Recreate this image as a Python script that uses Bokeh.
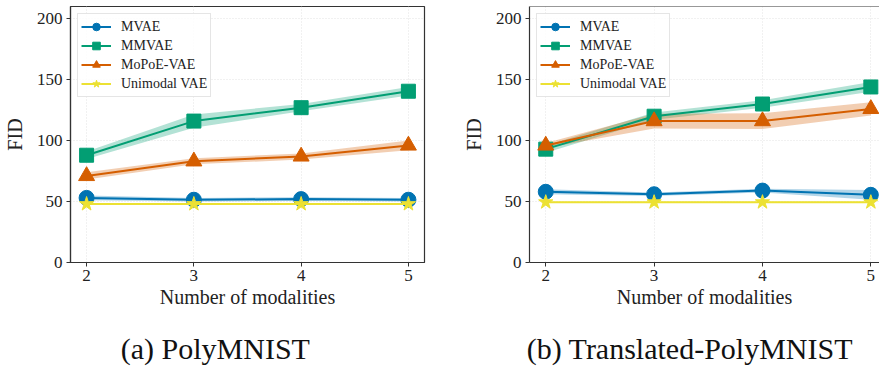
import numpy as np
from bokeh.plotting import figure
from bokeh.layouts import row
from bokeh.models import Legend, LegendItem, LinearAxis, Span, FixedTicker, Range1d
from bokeh.embed import file_html
from bokeh.resources import INLINE

# ---------------- data ----------------
modalities = [2, 3, 4, 5]
series_names = ["MVAE", "MMVAE", "MoPoE-VAE", "Unimodal VAE"]

# (a) PolyMNIST
mvae_a = [53.0, 51.5, 52.0, 51.5]
mvae_a_sd = [2.0, 1.5, 1.5, 1.5]
mmvae_a = [88.0, 116.0, 127.0, 140.5]
mmvae_a_sd = [3.0, 5.5, 3.0, 3.5]
mopoe_a = [71.0, 83.0, 87.0, 96.0]
mopoe_a_sd = [3.0, 2.5, 2.5, 4.0]
uni_a = [48.0, 48.0, 48.0, 48.0]
uni_a_sd = [0.5, 0.5, 0.5, 0.5]

# (b) Translated-PolyMNIST
mvae_b = [58.0, 56.0, 59.0, 55.5]
mvae_b_sd = [2.0, 1.5, 1.5, 4.0]
mmvae_b = [93.0, 120.0, 130.0, 144.0]
mmvae_b_sd = [3.0, 3.0, 3.0, 4.0]
mopoe_b = [96.0, 116.0, 116.0, 126.0]
mopoe_b_sd = [2.0, 6.0, 6.5, 5.5]
uni_b = [49.5, 49.5, 49.5, 49.5]
uni_b_sd = [0.5, 0.5, 0.5, 0.5]

y_ticks = [0, 50, 100, 150, 200]
captions = ["(a) PolyMNIST", "(b) Translated-PolyMNIST"]

# ---------------- style ----------------
colors = ["#0173b2", "#029e73", "#d55e00", "#ece133"]
markers = ["circle", "square", "triangle", "star"]
msizes = [15, 14, 16, 15]
FONT = "Liberation Serif"
SPINE = "#333333"


def make_panel(series, caption, width, min_left, min_right, x_end, cap_x, outline_right=True):
    p = figure(width=width, height=369, output_backend="svg", toolbar_location=None,
               x_range=Range1d(1.85, x_end), y_range=Range1d(0, 210),
               min_border_left=min_left, min_border_right=min_right,
               min_border_top=6, min_border_bottom=107)
    p.background_fill_color = "white"
    p.border_fill_color = "white"
    if outline_right:
        p.outline_line_color = SPINE
        p.outline_line_width = 1.2
    else:
        p.outline_line_color = None
        p.add_layout(Span(location=210, dimension="width", line_color=SPINE, line_width=1.2))

    for g in (p.xgrid, p.ygrid):
        g.grid_line_color = "#e3e3e3"
        g.grid_line_dash = "1 2"
        g.grid_line_width = 1

    p.xaxis.ticker = FixedTicker(ticks=modalities)
    p.yaxis.ticker = FixedTicker(ticks=y_ticks)
    for ax in (p.xaxis, p.yaxis):
        ax.axis_line_color = SPINE
        ax.axis_line_width = 1.2
        ax.major_tick_line_color = SPINE
        ax.major_tick_in = 0
        ax.major_tick_out = 4
        ax.minor_tick_line_color = None
        ax.major_label_text_font = FONT
        ax.major_label_text_font_size = "17px"
        ax.major_label_text_color = "#222222"
        ax.axis_label_text_font = FONT
        ax.axis_label_text_font_size = "20px"
        ax.axis_label_text_font_style = "normal"
        ax.axis_label_text_color = "#222222"
    p.xaxis.axis_label = "Number of modalities"
    p.yaxis.axis_label = "FID"
    p.xaxis.major_label_standoff = 3
    p.xaxis.axis_label_standoff = 2
    p.yaxis.major_label_standoff = 4
    p.yaxis.axis_label_standoff = 8

    items = []
    for (vals, sd), name, c, m, s in zip(series, series_names, colors, markers, msizes):
        v = np.array(vals)
        e = np.array(sd)
        p.varea(x=modalities, y1=v - e, y2=v + e, fill_color=c, fill_alpha=0.3)
    for (vals, sd), name, c, m, s in zip(series, series_names, colors, markers, msizes):
        ln = p.line(modalities, vals, line_color=c, line_width=2)
        sc = p.scatter(modalities, vals, marker=m, size=s, fill_color=c, line_color=c)
        items.append(LegendItem(label=name, renderers=[ln, sc]))

    leg = Legend(items=items, location="top_left")
    leg.label_text_font = FONT
    leg.label_text_font_size = "14px"
    leg.label_text_color = "#222222"
    leg.glyph_width = 30
    leg.glyph_height = 19
    leg.label_height = 17
    leg.spacing = 0
    leg.padding = 3
    leg.margin = 7
    leg.label_standoff = 10
    leg.border_line_color = "#cccccc"
    leg.border_line_width = 1
    leg.background_fill_alpha = 0.85
    p.add_layout(leg)

    # sub-figure caption, drawn as the single label of a bare extra axis
    cap = LinearAxis(ticker=FixedTicker(ticks=[cap_x]),
                     major_label_overrides={cap_x: caption},
                     axis_line_color=None, major_tick_line_color=None,
                     minor_tick_line_color=None, major_tick_out=0, major_tick_in=0,
                     major_label_standoff=21,
                     major_label_text_font=FONT, major_label_text_font_size="30px",
                     major_label_text_color="#111111")
    p.add_layout(cap, "below")
    return p


pa = make_panel([(mvae_a, mvae_a_sd), (mmvae_a, mmvae_a_sd), (mopoe_a, mopoe_a_sd), (uni_a, uni_a_sd)],
                captions[0], 440, 66, 16, 5.15, 3.2)
pb = make_panel([(mvae_b, mvae_b_sd), (mmvae_b, mmvae_b_sd), (mopoe_b, mopoe_b_sd), (uni_b, uni_b_sd)],
                captions[1], 439, 89, 0, 5.08, 3.33, outline_right=False)

layout = row(pa, pb)
open("out.html", "w").write(file_html(layout, INLINE))
